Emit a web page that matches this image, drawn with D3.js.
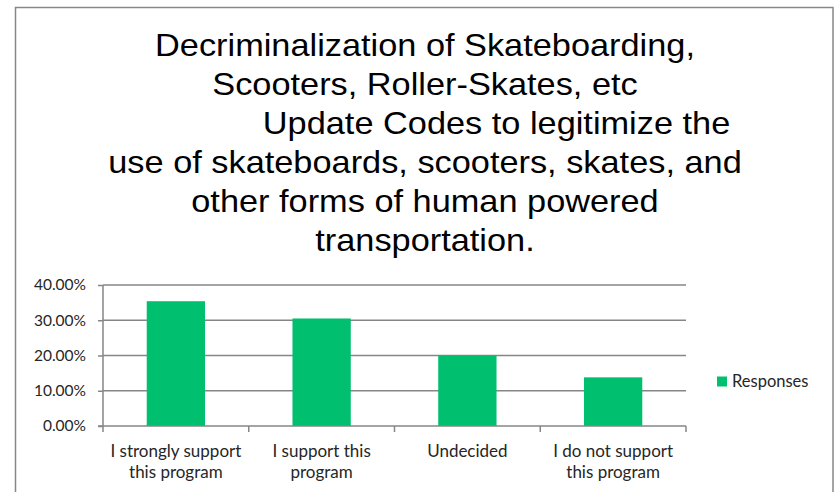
<!DOCTYPE html>
<html>
<head>
<meta charset="utf-8">
<script src="https://cdn.jsdelivr.net/npm/d3@7"></script>
<style>
  html, body { margin: 0; padding: 0; background: #fff; }
  svg { display: block; }
  text { white-space: pre; }
</style>
</head>
<body>
<svg id="chart" width="839" height="492"></svg>
<script>
// ---- data ----
const titleLines = [
  "Decriminalization of Skateboarding,",
  "Scooters, Roller-Skates, etc",
  "               Update Codes to legitimize the",
  "use of skateboards, scooters, skates, and",
  "other forms of human powered",
  "transportation."
];
const categories = [
  "I strongly support this program",
  "I support this program",
  "Undecided",
  "I do not support this program"
];
const categoryLines = [
  ["I strongly support", "this program"],
  ["I support this", "program"],
  ["Undecided"],
  ["I do not support", "this program"]
];
const seriesName = "Responses";
const responses = [35.4, 30.5, 20.0, 13.8];
const yTicks = [0, 10, 20, 30, 40];

// ---- layout ----
const W = 839, H = 492;
const plot = { left: 103, right: 686, top: 285, bottom: 426 };
const green = "#00bf6f";
const gridColor = "#868686";
const labelFont = "Lato, 'Open Sans', sans-serif";

const svg = d3.select("#chart");

// outer chart border
svg.append("rect")
  .attr("x", 15.5).attr("y", 7.5)
  .attr("width", 833 - 15.5).attr("height", 520)
  .attr("fill", "#fff")
  .attr("stroke", "#878787").attr("stroke-width", 1.5);

// title
const titleG = svg.append("g")
  .attr("transform", "translate(425,0) scale(1.09,1)");
titleG.selectAll("text").data(titleLines).join("text")
  .attr("x", 0)
  .attr("y", (d, i) => 56 + i * 39)
  .attr("text-anchor", "middle")
  .attr("font-family", "'Liberation Sans', Arial, sans-serif")
  .attr("font-size", 31.5)
  .attr("fill", "#000")
  .text(d => d);

// scales
const x = d3.scaleBand().domain(categories)
  .range([plot.left, plot.right]).paddingInner(0.6).paddingOuter(0.3);
const xOuter = d3.scaleBand().domain(categories)
  .range([plot.left, plot.right]).padding(0);
const y = d3.scaleLinear().domain([0, 40]).range([plot.bottom, plot.top]);

// gridlines
svg.append("g").selectAll("line").data(yTicks.filter(t => t > 0)).join("line")
  .attr("x1", plot.left).attr("x2", plot.right)
  .attr("y1", d => y(d)).attr("y2", d => y(d))
  .attr("stroke", gridColor).attr("stroke-width", 1.5);

// bars
svg.append("g").selectAll("rect").data(responses).join("rect")
  .attr("x", (d, i) => x(categories[i]))
  .attr("width", x.bandwidth())
  .attr("y", d => y(d))
  .attr("height", d => y(0) - y(d))
  .attr("fill", green);

// y axis
const yAxis = d3.axisLeft(y).tickValues(yTicks)
  .tickFormat(d => d3.format(".2f")(d) + "%")
  .tickSize(5).tickPadding(12);
const yg = svg.append("g").attr("transform", `translate(${plot.left},0)`).call(yAxis);
yg.select(".domain").attr("stroke", gridColor).attr("stroke-width", 1.5)
  .attr("d", `M0,${plot.top}V${plot.bottom}`);
yg.selectAll(".tick line").attr("stroke", gridColor).attr("stroke-width", 1.5);
yg.selectAll(".tick text")
  .attr("font-family", labelFont).attr("font-size", 15.5)
  .attr("fill", "#262626");

// x axis (baseline + boundary ticks)
svg.append("line")
  .attr("x1", plot.left - 5).attr("x2", plot.right)
  .attr("y1", y(0)).attr("y2", y(0))
  .attr("stroke", gridColor).attr("stroke-width", 1.5);
const bounds = categories.map(c => xOuter(c)).concat([plot.right]);
svg.append("g").selectAll("line").data(bounds).join("line")
  .attr("x1", d => d).attr("x2", d => d)
  .attr("y1", y(0)).attr("y2", y(0) + 6)
  .attr("stroke", gridColor).attr("stroke-width", 1.5);

// category labels
const catG = svg.append("g").selectAll("text").data(categoryLines).join("text")
  .attr("text-anchor", "middle")
  .attr("font-family", labelFont).attr("font-size", 17)
  .attr("fill", "#262626");
catG.each(function(lines, i) {
  const cx = xOuter(categories[i]) + xOuter.bandwidth() / 2;
  d3.select(this).selectAll("tspan").data(lines).join("tspan")
    .attr("x", cx)
    .attr("y", (d, j) => 456.5 + j * 21.5)
    .text(d => d);
});

// legend
const lg = svg.append("g");
lg.append("rect").attr("x", 717).attr("y", 376.5)
  .attr("width", 10).attr("height", 10).attr("fill", green);
lg.append("text").attr("x", 732).attr("y", 386.5)
  .attr("font-family", labelFont).attr("font-size", 16.5)
  .attr("fill", "#262626")
  .text(seriesName);
</script>
</body>
</html>
